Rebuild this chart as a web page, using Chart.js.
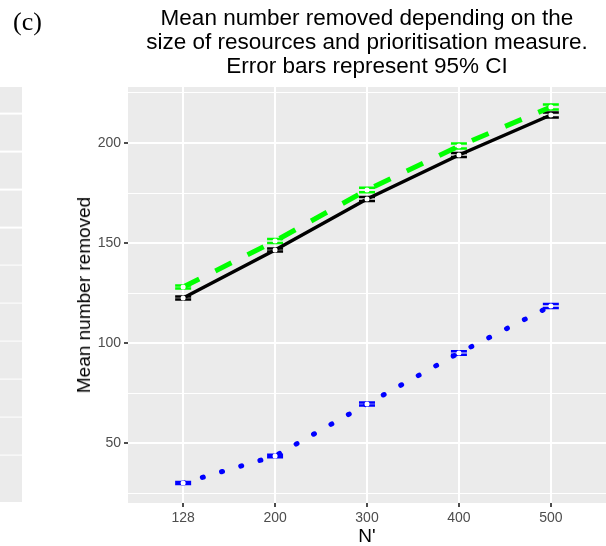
<!DOCTYPE html>
<html>
<head>
<meta charset="utf-8">
<script src="https://cdn.jsdelivr.net/npm/chart.js@4/dist/chart.umd.min.js"></script>
<style>
  body { margin: 0; background: #fff; }
  #wrap { position: relative; width: 606px; height: 546px; overflow: hidden; font-family: "Liberation Sans", Arial, sans-serif; }
  #chart { position: absolute; left: 0; top: 0; }
  .txt { position: absolute; white-space: nowrap; color: #000; }
  #tag { left: 13px; top: 7px; font-family: "Liberation Serif", "Times New Roman", serif; font-size: 26px; }
  #title { left: 128px; width: 478px; top: 6px; text-align: center; font-size: 22.5px; line-height: 24px; }
  #ytitle { left: 84px; top: 295px; font-size: 19px; transform: translate(-50%, -50%) rotate(-90deg); }
  #xtitle { left: 367px; top: 536px; font-size: 19px; transform: translate(-50%, -50%); }
  /* edge of the neighbouring panel */
  #side { position: absolute; left: 0; top: 87px; width: 22px; height: 415px; background-color: #ebebeb;
          background-image: repeating-linear-gradient(to bottom, transparent 0, transparent 36.4px, #fff 36.4px, #fff 37.9px);
          background-position: 0 -10.4px; }
</style>
</head>
<body>
<div id="wrap">
  <div id="side"></div>
  <canvas id="chart" width="610" height="546"></canvas>
  <div class="txt" id="tag">(c)</div>
  <div class="txt" id="title">Mean number removed depending on the<br>size of resources and prioritisation measure.<br>Error bars represent 95% CI</div>
  <div class="txt" id="ytitle">Mean number removed</div>
  <div class="txt" id="xtitle">N'</div>
</div>
<script>
// resource sizes on the x axis
const nLabels = ['128', '200', '300', '400', '500'];

// mean number removed for each prioritisation measure
const solidMeans = [122.5, 146.5, 172, 194, 214];
const dashedMeans = [128, 151, 176.5, 198.5, 218];
const dottedMeans = [30, 43.5, 69.5, 95, 118.5];

// half widths of the 95% confidence intervals
const solidCI = [0.7, 0.8, 1.0, 1.0, 1.2];
const dashedCI = [0.8, 1.0, 1.1, 1.2, 1.3];
const dottedCI = [0.5, 0.6, 0.8, 0.9, 1.0];

const yTicks = [25, 50, 75, 100, 125, 150, 175, 200, 225];

function toPoints(values) {
    return values.map((v, i) => ({ x: i, y: v }));
}

// grey panel behind the grid
const panelBg = {
    id: 'panelBg',
    beforeDraw(chart) {
        const a = chart.chartArea;
        const ctx = chart.ctx;
        ctx.save();
        ctx.fillStyle = '#ebebeb';
        ctx.fillRect(a.left, a.top, a.right - a.left, a.bottom - a.top);
        ctx.restore();
    }
};

// error bars with caps, drawn under the lines
const errorBars = {
    id: 'errorBars',
    beforeDatasetsDraw(chart) {
        const ctx = chart.ctx;
        const xs = chart.scales.x;
        const ys = chart.scales.y;
        ctx.save();
        chart.data.datasets.forEach(ds => {
            ctx.strokeStyle = ds.borderColor;
            ctx.lineWidth = 2.5;
            ds.data.forEach((p, i) => {
                const x = xs.getPixelForValue(p.x);
                const top = ys.getPixelForValue(p.y + ds.ci[i]);
                const bot = ys.getPixelForValue(p.y - ds.ci[i]);
                ctx.beginPath();
                ctx.moveTo(x, top);
                ctx.lineTo(x, bot);
                ctx.moveTo(x - 8, top);
                ctx.lineTo(x + 8, top);
                ctx.moveTo(x - 8, bot);
                ctx.lineTo(x + 8, bot);
                ctx.stroke();
            });
        });
        ctx.restore();
    }
};

const pointStyle = { pointRadius: 2.5, pointBorderWidth: 0, pointBackgroundColor: '#ffffff', pointBorderColor: '#ffffff' };

new Chart(document.querySelector('#chart').getContext('2d'), {
    type: 'line',
    data: {
        datasets: [
            {
                data: toPoints(dottedMeans),
                ci: dottedCI,
                borderColor: '#0000ff',
                borderWidth: 5,
                borderDash: [1, 19],
                borderCapStyle: 'round',
                ...pointStyle
            },
            {
                data: toPoints(solidMeans),
                ci: solidCI,
                borderColor: '#000000',
                borderWidth: 3.5,
                ...pointStyle
            },
            {
                data: toPoints(dashedMeans),
                ci: dashedCI,
                borderColor: '#00ff00',
                borderWidth: 5,
                borderDash: [18, 18],
                ...pointStyle
            }
        ]
    },
    options: {
        responsive: false,
        animation: false,
        layout: { padding: { top: 87, left: 0, right: 0, bottom: 0 } },
        elements: { line: { tension: 0, fill: false } },
        plugins: { legend: { display: false }, tooltip: { enabled: false } },
        scales: {
            x: {
                type: 'linear',
                min: -0.6,
                max: 4.6,
                afterBuildTicks: scale => { scale.ticks = nLabels.map((n, i) => ({ value: i })); },
                afterFit: scale => {
                    scale.height = 43;
                    scale.paddingLeft = 0;
                    scale.paddingRight = 0;
                },
                ticks: {
                    callback: v => nLabels[v],
                    color: '#4d4d4d',
                    font: { family: 'Liberation Sans', size: 14 },
                    padding: 3,
                    maxRotation: 0
                },
                grid: { color: '#ffffff', lineWidth: 2, tickColor: '#4d4d4d', tickLength: 4 },
                border: { display: false }
            },
            y: {
                min: 20,
                max: 228,
                afterBuildTicks: scale => { scale.ticks = yTicks.map(v => ({ value: v })); },
                afterFit: scale => {
                    scale.width = 128;
                    scale.paddingTop = 0;
                    scale.paddingBottom = 0;
                },
                ticks: {
                    callback: v => (v % 50 === 0 ? String(v) : ''),
                    color: '#4d4d4d',
                    font: { family: 'Liberation Sans', size: 14 },
                    padding: 3
                },
                grid: {
                    color: '#ffffff',
                    lineWidth: c => (c.tick && c.tick.value % 50 === 0 ? 2 : 1),
                    tickColor: c => (c.tick && c.tick.value % 50 === 0 ? '#4d4d4d' : 'rgba(0,0,0,0)'),
                    tickLength: 4
                },
                border: { display: false }
            }
        }
    },
    plugins: [panelBg, errorBars]
});
</script>
</body>
</html>
